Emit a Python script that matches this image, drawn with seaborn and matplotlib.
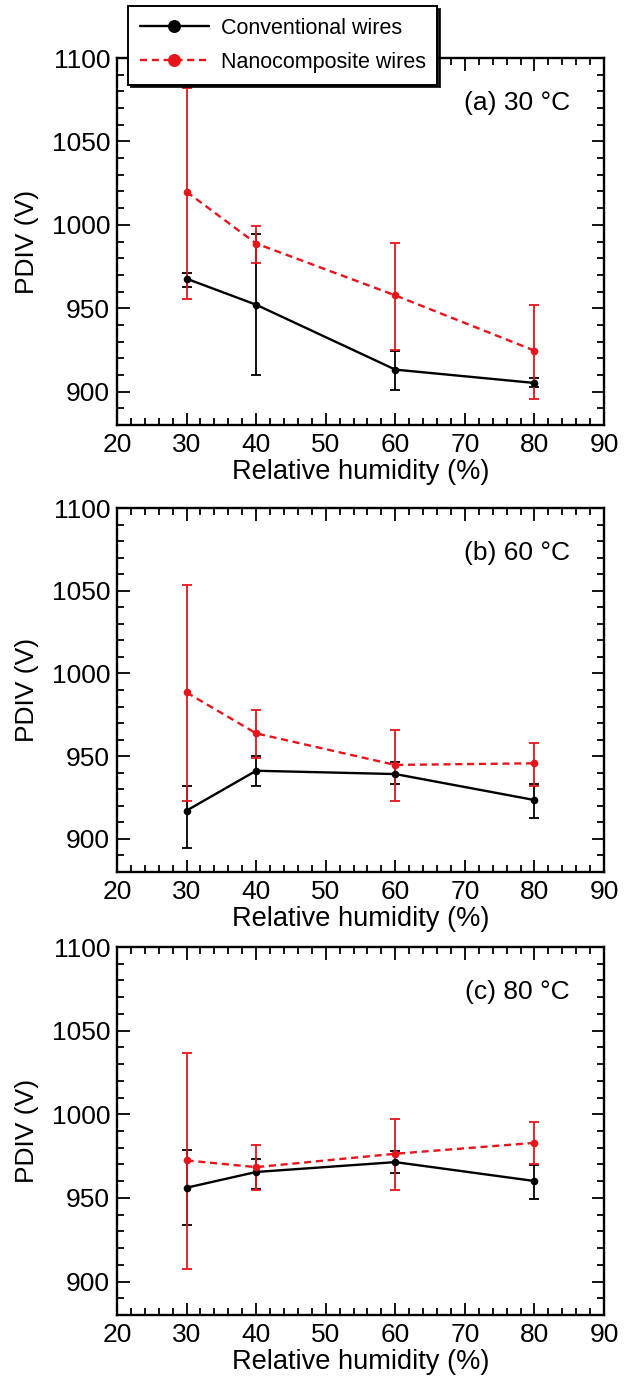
import numpy as np
import pandas as pd
import matplotlib
matplotlib.use("Agg")
import matplotlib.pyplot as plt
import seaborn as sns
from matplotlib.ticker import MultipleLocator

sns.set_style("ticks")
plt.rcParams['font.family'] = ['Liberation Sans', 'DejaVu Sans']
for k in ['text.color', 'axes.labelcolor', 'xtick.color', 'ytick.color', 'axes.edgecolor']:
    plt.rcParams[k] = 'black'

humidity = [30, 40, 60, 80]
panel_titles = ["(a) 30 °C", "(b) 60 °C", "(c) 80 °C"]
series_names = ["Conventional wires", "Nanocomposite wires"]

# Conventional wires: mean, lower bound, upper bound per panel
conv_mean = [[967.7, 952.1, 913.2, 905.2],
             [917.1, 941.2, 939.2, 923.5],
             [956.1, 965.5, 971.4, 960.1]]
conv_low = [[962.7, 910.2, 901.0, 902.6],
            [894.8, 932.2, 933.2, 912.9],
            [933.7, 955.2, 964.9, 949.6]]
conv_high = [[971.3, 994.2, 924.6, 908.0],
             [932.0, 950.0, 946.7, 933.2],
             [978.5, 973.4, 978.0, 969.4]]

# Nanocomposite wires
nano_mean = [[1019.8, 988.8, 957.7, 924.6],
             [988.5, 963.8, 944.7, 945.7],
             [972.4, 968.4, 976.4, 982.9]]
nano_low = [[955.7, 977.4, 925.0, 895.4],
            [922.9, 949.1, 922.9, 932.2],
            [907.3, 954.6, 955.0, 970.0]]
nano_high = [[1081.9, 999.4, 989.2, 952.1],
             [1053.3, 977.7, 965.6, 958.1],
             [1036.9, 981.7, 997.2, 995.6]]

W, H = 639, 1378
fig = plt.figure(figsize=(W / 100, H / 100), dpi=100)

left = 117 / W
width = (604 - 117) / W
panels_px = [(58, 425), (508, 872), (947, 1315)]

red = "#e8141b"
FS = 19
handles = None
for i, (top, bot) in enumerate(panels_px):
    ax = fig.add_axes([left, 1 - bot / H, width, (bot - top) / H])
    df = pd.DataFrame({
        "RH": humidity * 2,
        "PDIV": conv_mean[i] + nano_mean[i],
        "Type": [series_names[0]] * 4 + [series_names[1]] * 4,
    })
    cm = np.array(conv_mean[i]); nm = np.array(nano_mean[i])
    ax.errorbar(humidity, cm, yerr=[cm - np.array(conv_low[i]), np.array(conv_high[i]) - cm],
                fmt="none", ecolor="black", elinewidth=1.3, capsize=3.8, capthick=1.3, zorder=2)
    ax.errorbar(humidity, nm, yerr=[nm - np.array(nano_low[i]), np.array(nano_high[i]) - nm],
                fmt="none", ecolor=red, elinewidth=1.3, capsize=3.8, capthick=1.3, zorder=3)
    sns.lineplot(data=df, x="RH", y="PDIV", hue="Type", style="Type",
                 palette=["black", red], dashes=[(None, None), (3, 2)],
                 markers=["o", "o"], markersize=5.5, markeredgewidth=0,
                 linewidth=1.7, ax=ax, legend=(i == 0), zorder=4)
    if i == 0:
        handles, labels = ax.get_legend_handles_labels()
        ax.get_legend().remove()

    ax.set_xlim(20, 90)
    ax.set_ylim(880, 1100)
    ax.xaxis.set_major_locator(MultipleLocator(10))
    ax.xaxis.set_minor_locator(MultipleLocator(2))
    ax.yaxis.set_major_locator(MultipleLocator(50))
    ax.yaxis.set_minor_locator(MultipleLocator(10))
    ax.tick_params(which="both", direction="in", top=True, right=True,
                   labelsize=FS, width=1.3, colors="black")
    ax.tick_params(axis="y", which="both", pad=5)
    ax.tick_params(axis="x", which="both", pad=6)
    ax.tick_params(which="major", length=9)
    ax.tick_params(which="minor", length=5)
    for s in ax.spines.values():
        s.set_linewidth(1.7)
        s.set_color("black")
        s.set_visible(True)
    ax.set_xlabel("Relative humidity (%)", fontsize=19.6, labelpad=1)
    ax.set_ylabel("PDIV (V)", fontsize=FS, labelpad=9)
    ax.text(0.93, 0.877, panel_titles[i], transform=ax.transAxes,
            ha="right", va="center", fontsize=FS)

leg = fig.legend(handles, series_names, loc="upper left",
                 bbox_to_anchor=(128 / W, 1 - 6 / H), fontsize=15.5,
                 frameon=True, fancybox=False,
                 shadow={'color': 'black', 'alpha': 0.85},
                 edgecolor="black", framealpha=1, handlelength=3.2,
                 handletextpad=0.55, borderpad=0.55, labelspacing=0.6,
                 markerscale=1.7, borderaxespad=0)
leg.get_frame().set_linewidth(1.4)

fig.savefig("out.png", dpi=100)
